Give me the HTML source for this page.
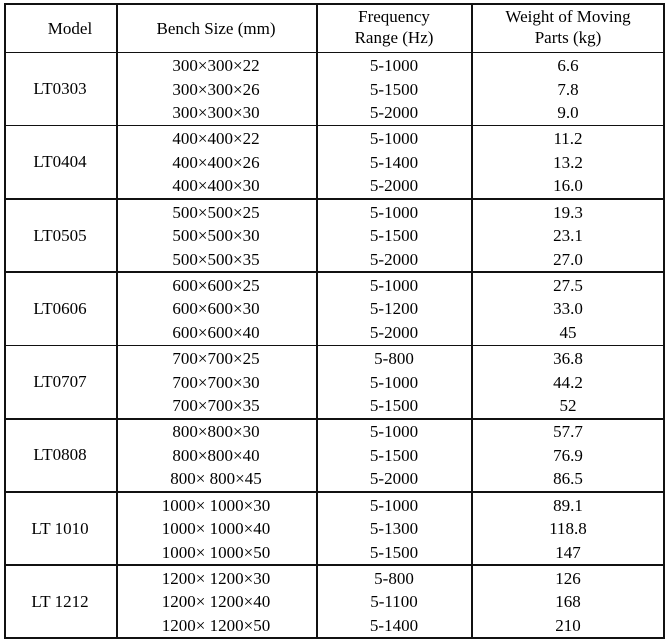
<!DOCTYPE html>
<html><head><meta charset="utf-8"><style>
body{margin:0;width:670px;height:643px;background:#fff;position:relative;font-family:"Liberation Serif",serif;font-size:17px;color:#000;overflow:hidden}
.l{position:absolute;background:#111}
.t{position:absolute;text-align:center;line-height:18px;white-space:nowrap}
</style></head><body>
<div class="l" style="left:4px;top:3px;width:661px;height:2px"></div>
<div class="l" style="left:4px;top:637px;width:661px;height:2px"></div>
<div class="l" style="left:4px;top:3px;width:2px;height:636px"></div>
<div class="l" style="left:663px;top:3px;width:2px;height:636px"></div>
<div class="l" style="left:116px;top:3px;width:1.5px;height:636px"></div>
<div class="l" style="left:316px;top:3px;width:1.5px;height:636px"></div>
<div class="l" style="left:471px;top:3px;width:1.5px;height:636px"></div>
<div id="g"></div>
<div class="t" style="left:20px;width:100px;top:20px">Model</div>
<div class="t" style="left:116px;width:200px;top:20px">Bench Size (mm)</div>
<div class="t" style="left:316px;width:156px;top:8px">Frequency<br><span style="line-height:24px">Range (Hz)</span></div>
<div class="t" style="left:472px;width:192px;top:8px">Weight of Moving<br><span style="line-height:24px">Parts (kg)</span></div>
<script>
var d=[["LT0303",["300×300×22","300×300×26","300×300×30"],["5-1000","5-1500","5-2000"],["6.6","7.8","9.0"]],
["LT0404",["400×400×22","400×400×26","400×400×30"],["5-1000","5-1400","5-2000"],["11.2","13.2","16.0"]],
["LT0505",["500×500×25","500×500×30","500×500×35"],["5-1000","5-1500","5-2000"],["19.3","23.1","27.0"]],
["LT0606",["600×600×25","600×600×30","600×600×40"],["5-1000","5-1200","5-2000"],["27.5","33.0","45"]],
["LT0707",["700×700×25","700×700×30","700×700×35"],["5-800","5-1000","5-1500"],["36.8","44.2","52"]],
["LT0808",["800×800×30","800×800×40","800× 800×45"],["5-1000","5-1500","5-2000"],["57.7","76.9","86.5"]],
["LT 1010",["1000× 1000×30","1000× 1000×40","1000× 1000×50"],["5-1000","5-1300","5-1500"],["89.1","118.8","147"]],
["LT 1212",["1200× 1200×30","1200× 1200×40","1200× 1200×50"],["5-800","5-1100","5-1400"],["126","168","210"]]];
var h="";
for(var i=0;i<8;i++){var y=52+i*73.25;
h+='<div class="l" style="left:4px;top:'+(y-0.5)+'px;width:661px;height:'+(i==5?2.5:1.5)+'px"></div>';
h+='<div class="t" style="left:4px;width:112px;top:'+(y+28)+'px">'+d[i][0]+'</div>';
for(var j=0;j<3;j++){var ty=y+5+j*23.5;
h+='<div class="t" style="left:116px;width:200px;top:'+ty+'px">'+d[i][1][j]+'</div>';
h+='<div class="t" style="left:316px;width:156px;top:'+ty+'px">'+d[i][2][j]+'</div>';
h+='<div class="t" style="left:472px;width:192px;top:'+ty+'px">'+d[i][3][j]+'</div>';}}
document.getElementById("g").innerHTML=h;
</script>
</body></html>
